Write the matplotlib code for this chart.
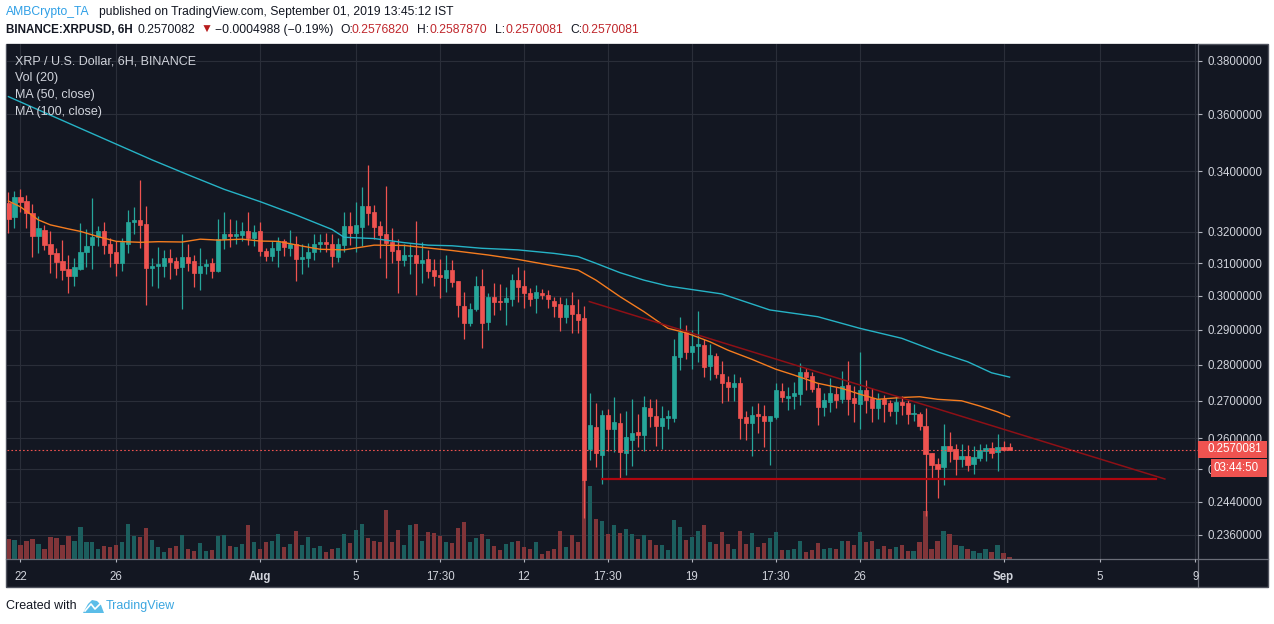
import numpy as np
import matplotlib
matplotlib.use('Agg')
import matplotlib.pyplot as plt
import matplotlib.transforms as mtransforms
from matplotlib.patches import Rectangle, Polygon
from matplotlib.lines import Line2D
from matplotlib.ticker import NullLocator

# ---- data: XRPUSD 6H candles, index 0 = Jul 22 05:30 IST ----
first_idx = -2
opens = [
    0.3293, 0.3246, 0.3315, 0.3300, 0.3260, 0.3186, 0.3206, 0.3160, 0.3131, 0.3106, 0.3082, 0.3060,
    0.3082, 0.3135, 0.3157, 0.3183, 0.3202, 0.3160, 0.3135, 0.3102, 0.3161, 0.3232, 0.3238, 0.3225,
    0.3085, 0.3091, 0.3090, 0.3116, 0.3107, 0.3088, 0.3120, 0.3107, 0.3071, 0.3092, 0.3101, 0.3077,
    0.3177, 0.3193, 0.3186, 0.3190, 0.3202, 0.3180, 0.3202, 0.3139, 0.3123, 0.3142, 0.3170, 0.3148,
    0.3160, 0.3114, 0.3117, 0.3135, 0.3160, 0.3167, 0.3160, 0.3121, 0.3158, 0.3217, 0.3197, 0.3215,
    0.3284, 0.3264, 0.3218, 0.3193, 0.3167, 0.3142, 0.3111, 0.3123, 0.3126, 0.3101, 0.3113, 0.3079,
    0.3063, 0.3055, 0.3079, 0.3045, 0.2971, 0.2920, 0.2960, 0.3030, 0.2923, 0.2998, 0.2986, 0.2981,
    0.2990, 0.3048, 0.3030, 0.3010, 0.2995, 0.3010, 0.3004, 0.2986, 0.2976, 0.2938, 0.2973, 0.2946,
    0.2933, 0.2573, 0.2631, 0.2557, 0.2661, 0.2624, 0.2641, 0.2563, 0.2596, 0.2616, 0.2609, 0.2680,
    0.2659, 0.2633, 0.2654, 0.2654, 0.2822, 0.2894, 0.2837, 0.2852, 0.2856, 0.2796, 0.2824, 0.2774,
    0.2752, 0.2737, 0.2750, 0.2656, 0.2640, 0.2664, 0.2658, 0.2645, 0.2657, 0.2728, 0.2707, 0.2714,
    0.2719, 0.2780, 0.2769, 0.2734, 0.2684, 0.2698, 0.2718, 0.2705, 0.2743, 0.2708, 0.2692, 0.2730,
    0.2708, 0.2681, 0.2705, 0.2695, 0.2673, 0.2697, 0.2695, 0.2664, 0.2664, 0.2633, 0.2561, 0.2534,
    0.2525, 0.2580, 0.2572, 0.2547, 0.2555, 0.2534, 0.2549, 0.2568, 0.2575, 0.2565, 0.2578, 0.2576820,
]
highs = [
    0.3330, 0.3334, 0.3341, 0.3320, 0.3291, 0.3251, 0.3222, 0.3203, 0.3147, 0.3173, 0.3126, 0.3118,
    0.3227, 0.3208, 0.3311, 0.3219, 0.3231, 0.3181, 0.3171, 0.3181, 0.3270, 0.3281, 0.3371, 0.3284,
    0.3118, 0.3150, 0.3142, 0.3144, 0.3119, 0.3193, 0.3160, 0.3126, 0.3148, 0.3114, 0.3116, 0.3241,
    0.3265, 0.3242, 0.3238, 0.3231, 0.3264, 0.3222, 0.3230, 0.3149, 0.3171, 0.3183, 0.3177, 0.3206,
    0.3186, 0.3160, 0.3164, 0.3193, 0.3193, 0.3196, 0.3193, 0.3180, 0.3265, 0.3265, 0.3296, 0.3346,
    0.3420, 0.3288, 0.3233, 0.3351, 0.3211, 0.3175, 0.3162, 0.3160, 0.3235, 0.3167, 0.3142, 0.3114,
    0.3112, 0.3125, 0.3110, 0.3045, 0.3012, 0.2978, 0.3062, 0.3083, 0.3010, 0.3040, 0.3037, 0.3028,
    0.3066, 0.3089, 0.3079, 0.3023, 0.3033, 0.3020, 0.3018, 0.2998, 0.2998, 0.2995, 0.3012, 0.2992,
    0.2970, 0.2720, 0.2693, 0.2675, 0.2677, 0.2710, 0.2666, 0.2673, 0.2704, 0.2664, 0.2712, 0.2704,
    0.2704, 0.2685, 0.2675, 0.2872, 0.2937, 0.2913, 0.2899, 0.2955, 0.2872, 0.2858, 0.2832, 0.2810,
    0.2768, 0.2774, 0.2766, 0.2672, 0.2685, 0.2693, 0.2688, 0.2658, 0.2750, 0.2748, 0.2739, 0.2752,
    0.2804, 0.2790, 0.2780, 0.2750, 0.2720, 0.2762, 0.2739, 0.2782, 0.2810, 0.2741, 0.2835, 0.2757,
    0.2735, 0.2720, 0.2716, 0.2702, 0.2714, 0.2714, 0.2702, 0.2692, 0.2670, 0.2680, 0.2563, 0.2550,
    0.2638, 0.2617, 0.2586, 0.2586, 0.2583, 0.2581, 0.2586, 0.2586, 0.2591, 0.2612, 0.2594, 0.2587870,
]
lows = [
    0.3197, 0.3211, 0.3265, 0.3211, 0.3120, 0.3131, 0.3142, 0.3071, 0.3056, 0.3048, 0.3010, 0.3031,
    0.3080, 0.3088, 0.3083, 0.3154, 0.3129, 0.3088, 0.3061, 0.3077, 0.3133, 0.3193, 0.3147, 0.2973,
    0.3030, 0.3024, 0.3057, 0.3052, 0.3064, 0.2962, 0.3077, 0.3028, 0.3019, 0.3067, 0.3053, 0.3074,
    0.3145, 0.3150, 0.3160, 0.3169, 0.3156, 0.3154, 0.3124, 0.3108, 0.3107, 0.3088, 0.3123, 0.3123,
    0.3046, 0.3068, 0.3088, 0.3110, 0.3135, 0.3134, 0.3088, 0.3105, 0.3136, 0.3157, 0.3136, 0.3154,
    0.3222, 0.3178, 0.3117, 0.3056, 0.3100, 0.3010, 0.3092, 0.3066, 0.3002, 0.3040, 0.3056, 0.3030,
    0.2995, 0.3013, 0.3028, 0.2938, 0.2874, 0.2911, 0.2956, 0.2848, 0.2899, 0.2943, 0.2958, 0.2914,
    0.2971, 0.2983, 0.2964, 0.2971, 0.2950, 0.2992, 0.2964, 0.2938, 0.2897, 0.2920, 0.2891, 0.2891,
    0.2400, 0.2544, 0.2525, 0.2483, 0.2568, 0.2564, 0.2498, 0.2506, 0.2529, 0.2578, 0.2568, 0.2630,
    0.2581, 0.2572, 0.2625, 0.2644, 0.2785, 0.2817, 0.2789, 0.2806, 0.2766, 0.2757, 0.2763, 0.2693,
    0.2699, 0.2700, 0.2598, 0.2596, 0.2555, 0.2615, 0.2578, 0.2532, 0.2651, 0.2698, 0.2675, 0.2677,
    0.2688, 0.2730, 0.2725, 0.2635, 0.2660, 0.2670, 0.2681, 0.2693, 0.2662, 0.2642, 0.2625, 0.2667,
    0.2642, 0.2650, 0.2642, 0.2660, 0.2637, 0.2662, 0.2637, 0.2645, 0.2623, 0.2404, 0.2497, 0.2449,
    0.2482, 0.2540, 0.2507, 0.2525, 0.2517, 0.2509, 0.2542, 0.2542, 0.2549, 0.2517, 0.2568, 0.2570081,
]
closes = [
    0.3241, 0.3315, 0.3298, 0.3260, 0.3186, 0.3212, 0.3157, 0.3129, 0.3105, 0.3079, 0.3060, 0.3087,
    0.3135, 0.3154, 0.3183, 0.3202, 0.3157, 0.3132, 0.3102, 0.3167, 0.3232, 0.3238, 0.3222, 0.3085,
    0.3090, 0.3097, 0.3116, 0.3105, 0.3085, 0.3120, 0.3101, 0.3071, 0.3092, 0.3097, 0.3077, 0.3177,
    0.3193, 0.3186, 0.3193, 0.3202, 0.3180, 0.3199, 0.3140, 0.3123, 0.3148, 0.3168, 0.3152, 0.3160,
    0.3114, 0.3120, 0.3135, 0.3160, 0.3168, 0.3160, 0.3124, 0.3160, 0.3217, 0.3197, 0.3220, 0.3284,
    0.3262, 0.3215, 0.3189, 0.3165, 0.3140, 0.3111, 0.3126, 0.3126, 0.3101, 0.3110, 0.3076, 0.3060,
    0.3057, 0.3079, 0.3043, 0.2974, 0.2920, 0.2961, 0.3030, 0.2920, 0.2998, 0.2983, 0.2981, 0.2993,
    0.3048, 0.3028, 0.3010, 0.2990, 0.3012, 0.3004, 0.2990, 0.2971, 0.2938, 0.2973, 0.2946, 0.2928,
    0.2493, 0.2635, 0.2561, 0.2661, 0.2624, 0.2644, 0.2565, 0.2603, 0.2613, 0.2609, 0.2682, 0.2659,
    0.2633, 0.2653, 0.2659, 0.2824, 0.2894, 0.2837, 0.2853, 0.2859, 0.2794, 0.2827, 0.2774, 0.2750,
    0.2737, 0.2750, 0.2655, 0.2640, 0.2662, 0.2658, 0.2645, 0.2658, 0.2730, 0.2709, 0.2714, 0.2721,
    0.2780, 0.2766, 0.2733, 0.2684, 0.2702, 0.2721, 0.2702, 0.2740, 0.2705, 0.2695, 0.2730, 0.2702,
    0.2680, 0.2705, 0.2692, 0.2673, 0.2697, 0.2689, 0.2664, 0.2666, 0.2633, 0.2560, 0.2531, 0.2520,
    0.2580, 0.2568, 0.2547, 0.2555, 0.2532, 0.2552, 0.2570, 0.2575, 0.2562, 0.2577, 0.2571, 0.2570081,
]
# volume, relative units
volumes = [
    20.3, 19.3, 14.3, 18.3, 20.3, 15.3, 10.3, 22.3, 21.3, 14.3, 23.3, 18.3,
    32.3, 16.7, 17.3, 10.3, 13.3, 12.3, 14.3, 17.3, 35.3, 23.3, 22.3, 31.3,
    19.3, 12.3, 7.3, 11.3, 13.3, 24.3, 10.3, 8.3, 16.3, 8.3, 9.3, 23.3,
    24.3, 13.3, 12.3, 15.3, 34.3, 17.3, 10.3, 17.3, 18.3, 25.3, 12.3, 15.3,
    28.3, 14.3, 22.3, 11.3, 13.3, 7.3, 10.3, 11.3, 25.3, 16.3, 29.3, 35.3,
    21.3, 18.3, 17.3, 49.3, 17.3, 29.3, 14.3, 33.7, 35.3, 18.3, 27.3, 26.3,
    23.3, 17.3, 16.3, 31.3, 37.3, 17.3, 21.3, 25.3, 20.3, 13.3, 9.3, 15.3,
    17.3, 18.3, 12.3, 10.3, 17.3, 5.3, 8.3, 10.3, 28.3, 12.3, 24.3, 17.3,
    79.0, 72.6, 40.3, 38.3, 25.3, 34.3, 26.3, 30.3, 25.3, 20.3, 24.3, 19.3,
    14.3, 14.3, 9.3, 39.3, 32.3, 19.3, 22.3, 28.3, 34.3, 17.3, 15.3, 27.3,
    15.3, 10.3, 28.3, 15.3, 26.3, 12.3, 16.3, 21.3, 27.3, 9.3, 9.3, 10.3,
    18.3, 7.3, 9.3, 16.3, 10.3, 11.3, 10.3, 18.3, 18.3, 14.3, 27.3, 17.3,
    18.3, 10.3, 13.3, 10.3, 12.3, 14.3, 8.3, 8.3, 17.3, 48.3, 10.3, 18.3,
    28.3, 25.3, 14.3, 13.3, 10.3, 8.3, 6.3, 10.3, 7.3, 14.3, 6.3, 2.3,
]

# moving averages (candle index, value)
ma50_idx = [-2, 0, 3, 5, 8, 10, 13, 16, 20, 23, 27, 30, 33, 37, 40, 43, 47, 50, 54, 59, 64, 67,
            72, 78, 83, 89, 93, 96, 100, 104, 108, 111, 115, 118, 122, 126, 129, 133, 137, 140,
            143, 147, 150, 153, 157, 160, 163, 165]
ma50 = [0.3300, 0.3281, 0.3238, 0.3222, 0.3209, 0.3201, 0.3184, 0.3169, 0.3166, 0.3168, 0.3167,
        0.3176, 0.3173, 0.3176, 0.3170, 0.3169, 0.3154, 0.3144, 0.3142, 0.3157, 0.3156, 0.3150,
        0.3140, 0.3126, 0.3112, 0.3092, 0.3079, 0.3048, 0.2998, 0.2953, 0.2904, 0.2891, 0.2865,
        0.2841, 0.2815, 0.2787, 0.2771, 0.2748, 0.2734, 0.2718, 0.2704, 0.2709, 0.2711, 0.2704,
        0.2700, 0.2686, 0.2670, 0.2657]
ma100_idx = [-2, 10, 22, 28, 34, 40, 46, 52, 54, 59, 64, 68, 72, 77, 83, 89, 93, 96, 100, 104,
             108, 117, 125, 133, 140, 147, 153, 158, 162, 165]
ma100 = [0.3665, 0.3550, 0.3439, 0.3388, 0.3339, 0.3298, 0.3254, 0.3207, 0.3182, 0.3178, 0.3165,
         0.3157, 0.3155, 0.3147, 0.3142, 0.3131, 0.3121, 0.3100, 0.3071, 0.3048, 0.3030, 0.3006,
         0.2958, 0.2938, 0.2904, 0.2875, 0.2836, 0.2808, 0.2777, 0.2765]

# drawn trend lines
trend_idx = [94.9, 190.9]
trend_px = [0.2983, 0.2496]
support_idx = [97.0, 189.5]
support_px = 0.2497

last_price = 0.2570081
price_ticks = [0.236, 0.244, 0.252, 0.26, 0.27, 0.28, 0.29, 0.30, 0.31, 0.32, 0.34, 0.36, 0.38]
time_ticks = [0, 16, 40, 56, 70, 84, 98, 112, 126, 140, 164, 180, 196]
time_labels = ['22', '26', 'Aug', '5', '17:30', '12', '17:30', '19', '17:30', '26', 'Sep', '5', '9']

# ---- style ----
BG = '#131722'
GRID = '#2a2e39'
UP, DOWN = '#26a69a', '#ef5350'
VUP, VDOWN = '#1c5e5e', '#813539'
TXT = '#b2b5be'
FONT = ['Liberation Sans', 'DejaVu Sans']

W, H = 1274, 624
fig = plt.figure(figsize=(W / 100, H / 100), dpi=100, facecolor='white')


def fx(x):
    return x / W


def fy(y):
    return 1 - y / H


fig.patches.append(Rectangle((fx(6), fy(587)), fx(1268) - fx(6), fy(44) - fy(587),
                             transform=fig.transFigure, facecolor=BG, edgecolor='#50535e',
                             lw=1, zorder=0))

rect = [fx(7), fy(559), fx(1198) - fx(7), fy(44) - fy(559)]
axv = fig.add_axes(rect, zorder=1)
ax = fig.add_axes(rect, zorder=2, sharex=axv)
axv.set_facecolor(BG)
ax.patch.set_visible(False)

idx = np.arange(first_idx, first_idx + len(closes))
o = np.array(opens)
h = np.array(highs)
l = np.array(lows)
c = np.array(closes)
v = np.array(volumes)
up = c >= o

ax.set_yscale('log')
ax.set_xlim(-2.235, 196.43)
ax.set_ylim(0.23032, 0.3864)

# grid
for t in time_ticks:
    axv.axvline(t, color=GRID, lw=0.8, zorder=0)
gtrans = mtransforms.blended_transform_factory(axv.transAxes, ax.transData)
for p in price_ticks:
    axv.add_line(Line2D([0, 1], [p, p], transform=gtrans, color=GRID, lw=0.8, zorder=0))

# volume
axv.bar(idx, v, width=0.72, color=np.where(up, VUP, VDOWN), linewidth=0, zorder=1)
axv.set_ylim(0, v.max() * 6.52)
axv.tick_params(left=False, labelleft=False, bottom=False, labelbottom=False)
for s in axv.spines.values():
    s.set_visible(False)

# candles
cols = np.where(up, UP, DOWN)
ax.vlines(idx, l, h, colors=cols, lw=0.9, zorder=2)
ax.bar(idx, np.abs(c - o), bottom=np.minimum(o, c), width=0.72, color=cols,
       edgecolor=cols, linewidth=0.5, zorder=3)

# moving averages
ax.plot(ma100_idx, ma100, color='#26b3c6', lw=1.0, zorder=4)
ax.plot(ma50_idx, ma50, color='#f57c1f', lw=1.0, zorder=4)

# drawings
ax.plot(trend_idx, trend_px, color='#8e1016', lw=1.1, zorder=5)
ax.plot(support_idx, [support_px, support_px], color='#b0060f', lw=1.6, zorder=5)
ax.axhline(last_price, color=DOWN, lw=0.8, ls=(0, (1.5, 2)), zorder=5)

# axes / ticks
for s in ax.spines.values():
    s.set_visible(False)
ax.yaxis.tick_right()
ax.yaxis.set_minor_locator(NullLocator())
ax.set_yticks(price_ticks, ['%.7f' % p for p in price_ticks])
ax.set_xticks(time_ticks, time_labels)
ax.tick_params(axis='y', colors=TXT, labelcolor='#d1d4dc', length=3, width=0.8, pad=3.5,
               labelsize=8.3)
ax.tick_params(axis='x', colors=TXT, labelcolor='#d1d4dc', length=2.5, width=0.8, pad=6,
               labelsize=8.3)
for lab in ax.get_yticklabels() + ax.get_xticklabels():
    lab.set_fontfamily(FONT)
    if lab.get_text() in ('Aug', 'Sep'):
        lab.set_fontweight('bold')

# separators of price / time scales
fig.add_artist(Line2D([fx(1198), fx(1198)], [fy(44), fy(587)], color='#6a6d78', lw=0.9))
fig.add_artist(Line2D([fx(6), fx(1268)], [fy(559), fy(559)], color='#6a6d78', lw=0.9))

# last price labels on the scale
fig.patches.append(Rectangle((fx(1198), fy(457.5)), fx(1267) - fx(1198), fy(440.5) - fy(457.5),
                             transform=fig.transFigure, facecolor=DOWN, lw=0, zorder=10))
fig.patches.append(Rectangle((fx(1211), fy(477)), fx(1267) - fx(1211), fy(459) - fy(477),
                             transform=fig.transFigure, facecolor=DOWN, lw=0, zorder=10))
fig.text(fx(1207), fy(449), '%.7f' % last_price, color='white', fontsize=8.3, family=FONT,
         va='center', ha='left', zorder=11)
fig.text(fx(1214), fy(468), '03:44:50', color='white', fontsize=8.3, family=FONT,
         va='center', ha='left', zorder=11)

# legend in pane
for y, s in [(61, 'XRP / U.S. Dollar, 6H, BINANCE'), (78, 'Vol (20)'),
             (95, 'MA (50, close)'), (112, 'MA (100, close)')]:
    fig.text(fx(15), fy(y), s, color='#d1d4dc', fontsize=9, family=FONT, va='center',
             zorder=12)

# header
HF = ['Liberation Sans', 'DejaVu Sans']
HS = 8.7
RED = '#c0282d'
INK = '#131722'
fig.text(fx(6), fy(12.5), 'AMBCrypto_TA', color='#2e9fe6', fontsize=HS, family=HF, va='center')
fig.text(fx(99), fy(12.5), 'published on TradingView.com, September 01, 2019 13:45:12 IST',
         color=INK, fontsize=HS, family=HF, va='center')
y2 = fy(30)
fig.text(fx(6), y2, 'BINANCE:XRPUSD, 6H', color=INK, fontsize=8.4, family=HF,
         fontweight='bold', va='center')
fig.text(fx(138), y2, '0.2570082', color=INK, fontsize=HS, family=HF, va='center')
fig.text(fx(201), y2, '\u25bc', color='#b71c1c', fontsize=HS, family=HF, va='center')
fig.text(fx(215), y2, '\u22120.0004988 (\u22120.19%)', color=INK, fontsize=HS, family=HF,
         va='center')
for x_lab, x_val, lab, val in [(340, 352, 'O:', '0.2576820'), (417, 429, 'H:', '0.2587870'),
                               (495, 505, 'L:', '0.2570081'), (570, 582, 'C:', '0.2570081')]:
    fig.text(fx(x_lab), y2, lab, color=INK, fontsize=HS, family=HF, va='center')
    fig.text(fx(x_val), y2, val, color=RED, fontsize=HS, family=HF, va='center')

# footer
fig.text(fx(6), fy(606), 'Created with', color=INK, fontsize=9, family=HF, va='center')
fig.patches.append(Polygon([(fx(83), fy(613)), (fx(88), fy(604)), (fx(92), fy(600)),
                            (fx(97), fy(601)), (fx(101), fy(605)), (fx(104), fy(613))],
                           closed=True, transform=fig.transFigure, facecolor='#5bbde8', lw=0))
fig.add_artist(Line2D([fx(85), fx(91), fx(95), fx(101)], [fy(611), fy(604), fy(609), fy(603)],
                      color='white', lw=1.2))
fig.text(fx(106), fy(606), 'TradingView', color='#3ba6e0', fontsize=9, family=HF,
         va='center')

fig.savefig('out.png', dpi=100, facecolor='white')
